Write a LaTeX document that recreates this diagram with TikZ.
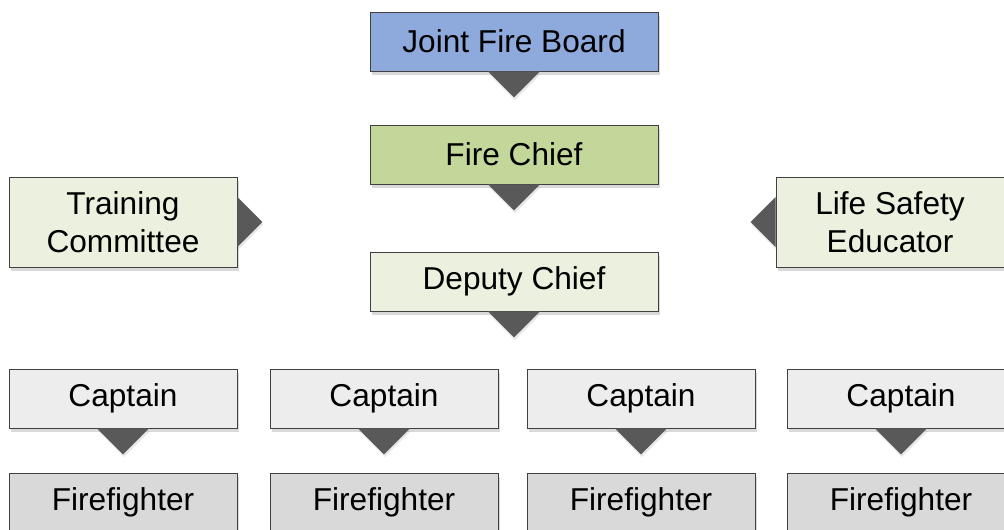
\documentclass[tikz,border=0pt]{standalone}
\usepackage{fontspec}
\setmainfont{Liberation Sans}
\usepackage{tikz}
\usetikzlibrary{calc}
\usetikzlibrary{shadows}

\definecolor{boardblue}{HTML}{8EA9DB}
\definecolor{chiefgreen}{HTML}{C4D79B}
\definecolor{palegreen}{HTML}{EBF1DE}
\definecolor{captaingray}{HTML}{EDEDED}
\definecolor{fightergray}{HTML}{D9D9D9}
\definecolor{pointergray}{HTML}{595959}
\definecolor{edgegray}{HTML}{404040}

% pointers hanging below / beside a box
\newcommand{\downpointer}[1]{\fill[pointergray, drop shadow={shadow xshift=0.5pt, shadow yshift=-1.5pt, opacity=0.2}] ($(#1.south)+(-0.52,0)$) -- ($(#1.south)+(0.52,0)$) -- ($(#1.south)+(0,-0.52)$) -- cycle;}
\newcommand{\rightpointer}[1]{\fill[pointergray, drop shadow={shadow xshift=0.5pt, shadow yshift=-1.5pt, opacity=0.2}] ($(#1.east)+(0,0.5)$) -- ($(#1.east)+(0,-0.5)$) -- ($(#1.east)+(0.5,0)$) -- cycle;}
\newcommand{\leftpointer}[1]{\fill[pointergray, drop shadow={shadow xshift=0.5pt, shadow yshift=-1.5pt, opacity=0.2}] ($(#1.west)+(0,0.5)$) -- ($(#1.west)+(0,-0.5)$) -- ($(#1.west)+(-0.5,0)$) -- cycle;}

\begin{document}
\begin{tikzpicture}[
  orgbox/.style={draw=edgegray, line width=0.5pt, inner sep=0pt, align=center,
    minimum width=4.56cm, minimum height=1.18cm,
    font=\fontsize{18}{21.6}\selectfont,
    drop shadow={shadow xshift=1pt, shadow yshift=-2.5pt, opacity=0.3}},
  widebox/.style={orgbox, minimum width=5.76cm},
  tallbox/.style={orgbox, minimum height=1.8cm}
]
\useasboundingbox (0,0) rectangle (20.08,10.58);
\clip (0,0) rectangle (20.08,10.58);
%%% Draws the chain of command
% draws top boxes
\node[widebox, fill=boardblue] (board) at (10.28,9.75) {Joint Fire Board};
\node[widebox, fill=chiefgreen] (chief) at (10.28,7.49) {Fire Chief};
\node[widebox, fill=palegreen] (deputy) at (10.28,4.95) {Deputy Chief};
% draws side boxes
\node[tallbox, fill=palegreen] (training) at (2.46,6.14) {Training\\Committee};
\node[tallbox, fill=palegreen] (educator) at (17.80,6.14) {Life Safety\\Educator};
%%% Draws the companies
% draws captains
\node[orgbox, fill=captaingray] (cap1) at (2.46,2.61) {Captain};
\node[orgbox, fill=captaingray] (cap2) at (7.68,2.61) {Captain};
\node[orgbox, fill=captaingray] (cap3) at (12.82,2.61) {Captain};
\node[orgbox, fill=captaingray] (cap4) at (18.02,2.61) {Captain};
% draws firefighters
\node[orgbox, fill=fightergray] (ff1) at (2.46,0.53) {Firefighter};
\node[orgbox, fill=fightergray] (ff2) at (7.68,0.53) {Firefighter};
\node[orgbox, fill=fightergray] (ff3) at (12.82,0.53) {Firefighter};
\node[orgbox, fill=fightergray] (ff4) at (18.02,0.53) {Firefighter};
%%% Draws the pointers
\downpointer{board}
\downpointer{chief}
\downpointer{deputy}
\rightpointer{training}
\leftpointer{educator}
\downpointer{cap1}
\downpointer{cap2}
\downpointer{cap3}
\downpointer{cap4}
\end{tikzpicture}
\end{document}
